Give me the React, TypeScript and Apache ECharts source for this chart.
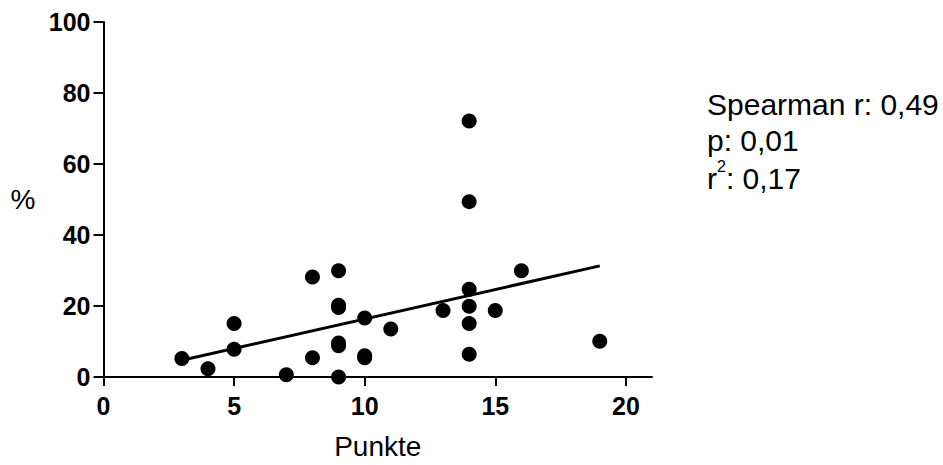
import React, { useEffect, useRef } from "react";
import * as echarts from "echarts";

// Data
const pointsX = [3, 4, 5, 5, 7, 8, 8, 9, 9, 9, 9, 9, 9, 10, 10, 10, 11, 13, 14, 14, 14, 14, 14, 14, 15, 16, 19];
const pointsY = [5.2, 2.3, 15.1, 7.8, 0.6, 28.2, 5.4, 29.9, 19.6, 20.2, 8.8, 9.6, 0, 16.6, 5.4, 6.0, 13.5, 18.7, 72.1, 49.4, 24.7, 19.9, 15.1, 6.4, 18.7, 29.9, 10.1];
const fitX = [3, 19];
const fitY = [4.7, 31.3];
const xTicks = [0, 5, 10, 15, 20];
const yTicks = [0, 20, 40, 60, 80, 100];
const statLines = ["Spearman r: 0,49", "p: 0,01"];
const r2Value = ": 0,17";

const FONT = "'Liberation Sans', Arial, Helvetica, sans-serif";

export default function App() {
  const ref = useRef<HTMLDivElement>(null);
  useEffect(() => {
    if (!ref.current) return;
    const chart = echarts.init(ref.current, undefined, { renderer: "svg" });
    const scatter = pointsX.map((x, i) => [x, pointsY[i]]);
    const fit = fitX.map((x, i) => [x, fitY[i]]);
    chart.setOption({
      animation: false,
      backgroundColor: "#ffffff",
      grid: { left: 103.5, right: 291, top: 22, bottom: 83.5, containLabel: false },
      xAxis: {
        type: "value",
        min: 0,
        max: 21,
        interval: 5,
        name: "Punkte",
        nameLocation: "middle",
        nameGap: 55,
        nameTextStyle: { fontFamily: FONT, fontSize: 28, color: "#000" },
        axisLine: { show: true, lineStyle: { color: "#000", width: 2 } },
        axisTick: { show: true, inside: false, length: 9, lineStyle: { color: "#000", width: 2 }, customValues: xTicks },
        axisLabel: { fontFamily: FONT, fontSize: 25, fontWeight: "bold", color: "#000", margin: 16, customValues: xTicks },
        splitLine: { show: false },
      },
      yAxis: {
        type: "value",
        min: 0,
        max: 100,
        interval: 20,
        name: "%",
        nameLocation: "middle",
        nameRotate: 0,
        nameGap: 68,
        nameTextStyle: { fontFamily: FONT, fontSize: 28, color: "#000" },
        axisLine: { show: true, lineStyle: { color: "#000", width: 2 } },
        axisTick: { show: true, inside: false, length: 10, lineStyle: { color: "#000", width: 2 }, customValues: yTicks },
        axisLabel: { fontFamily: FONT, fontSize: 25, fontWeight: "bold", color: "#000", margin: 13, customValues: yTicks },
        splitLine: { show: false },
      },
      series: [
        {
          type: "line",
          data: fit,
          symbol: "none",
          lineStyle: { color: "#000", width: 3 },
          z: 2,
        },
        {
          type: "scatter",
          data: scatter,
          symbol: "circle",
          symbolSize: 15,
          itemStyle: { color: "#000", opacity: 1 },
          z: 3,
        },
      ],
      graphic: [
        {
          type: "text",
          left: 707,
          top: 89.6,
          style: { text: statLines[0], fontFamily: FONT, fontSize: 30, lineHeight: 30, fill: "#000" },
        },
        {
          type: "text",
          left: 707,
          top: 125.6,
          style: { text: statLines[1], fontFamily: FONT, fontSize: 30, lineHeight: 30, fill: "#000" },
        },
        {
          type: "text",
          left: 707,
          top: 158,
          style: {
            text: "{a|r}{s|2}{a|" + r2Value + "}",
            fontFamily: FONT,
            fontSize: 30,
            lineHeight: 40,
            fill: "#000",
            rich: {
              a: { fontFamily: FONT, fontSize: 30, lineHeight: 40, fill: "#000", color: "#000" },
              s: { fontFamily: FONT, fontSize: 16, lineHeight: 2, verticalAlign: "top", fill: "#000", color: "#000" },
            },
          },
        },
      ],
    });
    return () => chart.dispose();
  }, []);
  return (
    <div
      ref={ref}
      style={{ position: "absolute", left: 0, top: 0, width: 943, height: 465 }}
    />
  );
}
